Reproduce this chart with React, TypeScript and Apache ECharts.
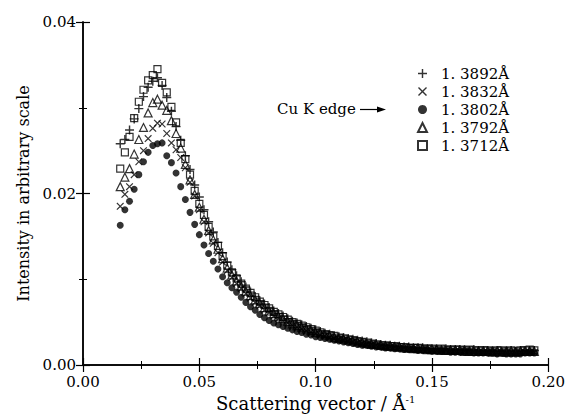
import React, { useEffect, useRef } from "react";
import * as echarts from "echarts";

const q = [
  0.016, 0.018, 0.020, 0.022, 0.024, 0.026, 0.028, 0.030, 0.032, 0.034,
  0.036, 0.038, 0.040, 0.042, 0.044, 0.046, 0.048, 0.050, 0.052, 0.054,
  0.056, 0.058, 0.060, 0.062, 0.064, 0.066, 0.068, 0.070, 0.072, 0.074,
  0.076, 0.078, 0.080, 0.082, 0.084, 0.086, 0.088, 0.090, 0.092, 0.094,
  0.096, 0.098, 0.100, 0.102, 0.104, 0.106, 0.108, 0.110, 0.112, 0.114,
  0.116, 0.118, 0.120, 0.122, 0.124, 0.126, 0.128, 0.130, 0.132, 0.134,
  0.136, 0.138, 0.140, 0.142, 0.144, 0.146, 0.148, 0.150, 0.152, 0.154,
  0.156, 0.158, 0.160, 0.162, 0.164, 0.166, 0.168, 0.170, 0.172, 0.174,
  0.176, 0.178, 0.180, 0.182, 0.184, 0.186, 0.188, 0.190, 0.192, 0.194,
];

// 1.3892 Å (+)
const s3892 = [
  0.0258, 0.0263, 0.0274, 0.0287, 0.0299, 0.0313, 0.0324, 0.0331, 0.0335, 0.0326,
  0.0312, 0.0296, 0.0278, 0.0262, 0.0244, 0.0228, 0.0210, 0.0196, 0.0181, 0.0167,
  0.0155, 0.0143, 0.0131, 0.0120, 0.0111, 0.0104, 0.0097, 0.0091, 0.0085, 0.0080,
  0.0075, 0.0071, 0.0067, 0.0063, 0.0060, 0.0057, 0.0054, 0.0051, 0.0049, 0.0047,
  0.0045, 0.0043, 0.0041, 0.0039, 0.0037, 0.0036, 0.0034, 0.0033, 0.0032, 0.0031,
  0.0030, 0.0029, 0.0028, 0.0027, 0.0026, 0.0025, 0.0024, 0.0023, 0.0023, 0.0022,
  0.0022, 0.0021, 0.0021, 0.0020, 0.0020, 0.0020, 0.0019, 0.0019, 0.0019, 0.0018,
  0.0019, 0.0018, 0.0018, 0.0018, 0.0018, 0.0017, 0.0018, 0.0017, 0.0017, 0.0017,
  0.0017, 0.0017, 0.0016, 0.0017, 0.0017, 0.0016, 0.0017, 0.0017, 0.0017, 0.0017,
];

// 1.3832 Å (x)
const s3832 = [
  0.0185, 0.0199, 0.0208, 0.0222, 0.0237, 0.0250, 0.0264, 0.0276, 0.0282, 0.0281,
  0.0270, 0.0259, 0.0251, 0.0242, 0.0230, 0.0213, 0.0197, 0.0181, 0.0167, 0.0154,
  0.0142, 0.0131, 0.0120, 0.0110, 0.0102, 0.0095, 0.0089, 0.0083, 0.0078, 0.0073,
  0.0069, 0.0064, 0.0061, 0.0057, 0.0054, 0.0051, 0.0049, 0.0046, 0.0044, 0.0042,
  0.0040, 0.0038, 0.0037, 0.0035, 0.0034, 0.0032, 0.0031, 0.0030, 0.0029, 0.0028,
  0.0027, 0.0026, 0.0025, 0.0024, 0.0024, 0.0023, 0.0022, 0.0022, 0.0021, 0.0021,
  0.0020, 0.0020, 0.0019, 0.0019, 0.0018, 0.0018, 0.0018, 0.0017, 0.0017, 0.0017,
  0.0017, 0.0016, 0.0016, 0.0016, 0.0016, 0.0016, 0.0015, 0.0015, 0.0015, 0.0015,
  0.0015, 0.0015, 0.0015, 0.0014, 0.0015, 0.0014, 0.0015, 0.0015, 0.0015, 0.0015,
];

// 1.3802 Å (filled circle)
const s3802 = [
  0.0163, 0.0181, 0.0191, 0.0205, 0.0222, 0.0237, 0.0248, 0.0256, 0.0258, 0.0259,
  0.0244, 0.0236, 0.0224, 0.0208, 0.0193, 0.0178, 0.0164, 0.0152, 0.0140, 0.0130,
  0.0121, 0.0112, 0.0103, 0.0096, 0.0090, 0.0085, 0.0079, 0.0073, 0.0068, 0.0064,
  0.0059, 0.0055, 0.0052, 0.0049, 0.0047, 0.0045, 0.0043, 0.0041, 0.0039, 0.0038,
  0.0036, 0.0035, 0.0033, 0.0032, 0.0031, 0.0030, 0.0029, 0.0028, 0.0027, 0.0026,
  0.0025, 0.0024, 0.0023, 0.0023, 0.0022, 0.0021, 0.0021, 0.0020, 0.0020, 0.0019,
  0.0019, 0.0018, 0.0018, 0.0018, 0.0017, 0.0017, 0.0017, 0.0016, 0.0016, 0.0016,
  0.0016, 0.0015, 0.0015, 0.0015, 0.0015, 0.0015, 0.0014, 0.0014, 0.0014, 0.0014,
  0.0014, 0.0013, 0.0014, 0.0013, 0.0013, 0.0013, 0.0013, 0.0014, 0.0014, 0.0014,
];

// 1.3792 Å (open triangle)
const s3792 = [
  0.0208, 0.0219, 0.0229, 0.0246, 0.0263, 0.0277, 0.0294, 0.0306, 0.0310, 0.0303,
  0.0297, 0.0285, 0.0270, 0.0253, 0.0234, 0.0216, 0.0199, 0.0184, 0.0170, 0.0157,
  0.0146, 0.0135, 0.0124, 0.0113, 0.0105, 0.0098, 0.0092, 0.0086, 0.0081, 0.0076,
  0.0072, 0.0067, 0.0063, 0.0060, 0.0057, 0.0054, 0.0051, 0.0048, 0.0046, 0.0044,
  0.0042, 0.0040, 0.0038, 0.0037, 0.0035, 0.0034, 0.0032, 0.0031, 0.0030, 0.0029,
  0.0028, 0.0027, 0.0026, 0.0025, 0.0024, 0.0024, 0.0023, 0.0022, 0.0022, 0.0021,
  0.0021, 0.0020, 0.0020, 0.0019, 0.0019, 0.0019, 0.0018, 0.0018, 0.0018, 0.0017,
  0.0017, 0.0017, 0.0017, 0.0017, 0.0016, 0.0016, 0.0016, 0.0016, 0.0016, 0.0016,
  0.0015, 0.0016, 0.0015, 0.0015, 0.0016, 0.0015, 0.0016, 0.0016, 0.0016, 0.0016,
];

// 1.3712 Å (open square)
const s3712 = [
  0.0229, 0.0248, 0.0266, 0.0288, 0.0307, 0.0321, 0.0332, 0.0338, 0.0345, 0.0329,
  0.0318, 0.0301, 0.0283, 0.0259, 0.0240, 0.0222, 0.0203, 0.0188, 0.0175, 0.0161,
  0.0150, 0.0139, 0.0127, 0.0116, 0.0108, 0.0101, 0.0095, 0.0089, 0.0084, 0.0079,
  0.0074, 0.0070, 0.0066, 0.0062, 0.0059, 0.0056, 0.0053, 0.0050, 0.0048, 0.0046,
  0.0044, 0.0042, 0.0040, 0.0038, 0.0036, 0.0035, 0.0034, 0.0032, 0.0031, 0.0030,
  0.0029, 0.0028, 0.0027, 0.0026, 0.0025, 0.0024, 0.0023, 0.0023, 0.0022, 0.0022,
  0.0021, 0.0021, 0.0020, 0.0020, 0.0020, 0.0019, 0.0019, 0.0019, 0.0018, 0.0019,
  0.0018, 0.0018, 0.0018, 0.0018, 0.0017, 0.0018, 0.0017, 0.0017, 0.0017, 0.0017,
  0.0016, 0.0017, 0.0017, 0.0016, 0.0017, 0.0016, 0.0017, 0.0017, 0.0018, 0.0017,
];

const seriesNames = ["1. 3892Å", "1. 3832Å", "1. 3802Å", "1. 3792Å", "1. 3712Å"];
const xLabel = "Scattering vector / Å";
const yLabel = "Intensity in arbitrary scale";
const edgeLabel = "Cu K edge";

const FONT = "'DejaVu Serif', 'Liberation Serif', serif";
const PLUS = "path://M4.2,0H5.8V4.2H10V5.8H5.8V10H4.2V5.8H0V4.2H4.2Z";
const CROSS =
  "path://M0,1.1L1.1,0L5,3.9L8.9,0L10,1.1L6.1,5L10,8.9L8.9,10L5,6.1L1.1,10L0,8.9L3.9,5Z";

export default function App() {
  const ref = useRef<HTMLDivElement>(null);

  useEffect(() => {
    if (!ref.current) return;
    const chart = echarts.init(ref.current, null, { renderer: "svg" });

    const axisLine = { lineStyle: { color: "#000", width: 1.5 } };
    const axisTick = { inside: true, length: 7, lineStyle: { color: "#000", width: 1.2 } };
    const minorTick = { show: true, splitNumber: 2, length: 4, lineStyle: { color: "#000", width: 1 } };
    const pairs = (arr: number[]) => q.map((x, i) => [x, arr[i]]);

    const open = { color: "rgba(0,0,0,0)", borderColor: "#000", borderWidth: 1.2 };
    const solid = { color: "#000" };

    chart.setOption({
      animation: false,
      backgroundColor: "#fff",
      grid: { left: 83, right: 17, top: 22, bottom: 55, containLabel: false },
      legend: {
        orient: "vertical",
        left: 412,
        top: 61,
        padding: 5,
        itemWidth: 9,
        itemHeight: 9,
        itemGap: 3,
        textStyle: { fontFamily: FONT, fontSize: 15, color: "#000", padding: [0, 0, 0, 9] },
        data: seriesNames,
      },
      xAxis: [
        {
          type: "value",
          min: 0,
          max: 0.2,
          interval: 0.05,
          position: "bottom",
          axisLine,
          axisTick,
          minorTick,
          splitLine: { show: false },
          axisLabel: {
            color: "#000",
            fontFamily: FONT,
            fontSize: 15,
            margin: 9,
            formatter: (v: number) => v.toFixed(2),
          },
          name: `{a|${xLabel}}{s|-1}`,
          nameLocation: "middle",
          nameGap: 29,
          nameTextStyle: {
            color: "#000",
            fontFamily: FONT,
            fontSize: 18,
            rich: {
              a: { fontFamily: FONT, fontSize: 18, color: "#000" },
              s: { fontFamily: FONT, fontSize: 10, color: "#000", verticalAlign: "top" },
            },
          },
        },
        {
          type: "value",
          min: 0,
          max: 0.2,
          interval: 0.05,
          position: "top",
          axisLine,
          axisTick,
          minorTick,
          splitLine: { show: false },
          axisLabel: { show: false },
        },
      ],
      yAxis: [
        {
          type: "value",
          min: 0,
          max: 0.04,
          interval: 0.02,
          position: "left",
          axisLine: { show: true, ...axisLine },
          axisTick,
          minorTick,
          splitLine: { show: false },
          axisLabel: {
            color: "#000",
            fontFamily: FONT,
            fontSize: 15,
            margin: 7,
            formatter: (v: number) => v.toFixed(2),
          },
          name: yLabel,
          nameLocation: "middle",
          nameGap: 52,
          nameTextStyle: { color: "#000", fontFamily: FONT, fontSize: 16 },
        },
        {
          type: "value",
          min: 0,
          max: 0.04,
          interval: 0.02,
          position: "right",
          axisLine: { show: true, ...axisLine },
          axisTick,
          minorTick,
          splitLine: { show: false },
          axisLabel: { show: false },
        },
      ],
      graphic: [
        {
          type: "text",
          left: 277,
          top: 101,
          style: { text: edgeLabel, fontFamily: FONT, fontSize: 15, fill: "#000" },
        },
        {
          type: "line",
          shape: { x1: 360, y1: 109.5, x2: 380, y2: 109.5 },
          style: { stroke: "#000", lineWidth: 1.2 },
        },
        {
          type: "polygon",
          shape: { points: [[377, 106.5], [386, 109.5], [377, 112.5]] },
          style: { fill: "#000" },
        },
      ],
      series: [
        {
          name: seriesNames[2],
          type: "scatter",
          data: pairs(s3802),
          symbol: "circle",
          symbolSize: 7,
          itemStyle: solid,
        },
        {
          name: seriesNames[1],
          type: "scatter",
          data: pairs(s3832),
          symbol: CROSS,
          symbolSize: 7.5,
          itemStyle: solid,
        },
        {
          name: seriesNames[3],
          type: "scatter",
          data: pairs(s3792),
          symbol: "triangle",
          symbolSize: 8,
          itemStyle: open,
        },
        {
          name: seriesNames[0],
          type: "scatter",
          data: pairs(s3892),
          symbol: PLUS,
          symbolSize: 9,
          itemStyle: solid,
        },
        {
          name: seriesNames[4],
          type: "scatter",
          data: pairs(s3712),
          symbol: "rect",
          symbolSize: 7,
          itemStyle: open,
        },
      ],
    });

    return () => chart.dispose();
  }, []);

  return (
    <div
      ref={ref}
      style={{ position: "fixed", left: 0, top: 0, width: 568, height: 420, background: "#fff" }}
    />
  );
}
